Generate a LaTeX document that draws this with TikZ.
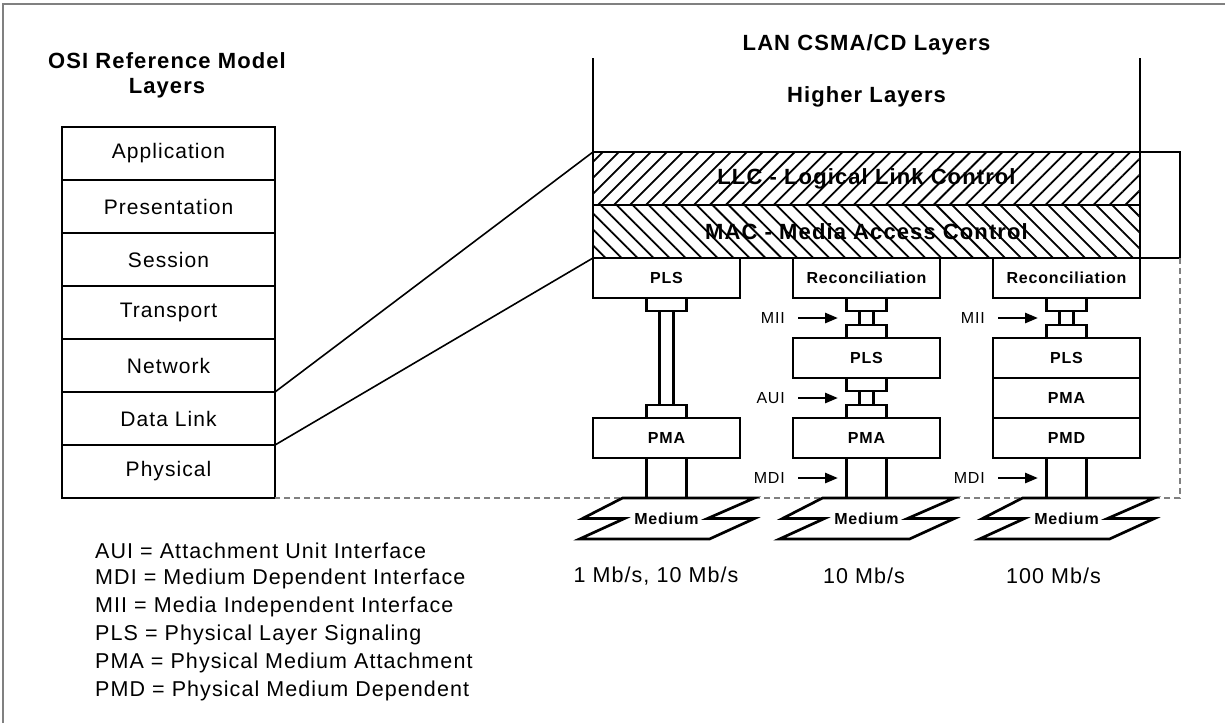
\documentclass[tikz,border=0pt]{standalone}
\usepackage{fontspec}
\setmainfont{Liberation Sans}[LetterSpace=5]
\usetikzlibrary{positioning,calc,patterns.meta,arrows.meta}

\begin{document}
\begin{tikzpicture}[x=1pt, y=-1pt, node distance=0pt,
        box/.style={draw, line width=2.7pt, rectangle, outer sep=0pt, inner sep=0pt, align=center},
        osi/.style={box, minimum width=213pt, minimum height=53pt, font=\fontsize{21}{25}\selectfont},
        band/.style={box, minimum width=547pt, minimum height=53pt, font=\fontsize{22}{26}\selectfont\bfseries},
        layer/.style={box, minimum width=147pt, minimum height=40pt, font=\fontsize{16}{19}\selectfont\bfseries},
        plug/.style={box, fill=white, minimum width=40pt, minimum height=13pt},
        rod/.style={box, fill=white, minimum width=14pt, minimum height=14pt},
        brace/.style={draw, line width=1.6pt, outer sep=0pt, minimum width=40pt, minimum height=106pt},
        medium/.style={inner sep=0pt, outer sep=0pt, minimum height=41pt, font=\fontsize{16}{19}\selectfont\bfseries},
        title/.style={align=center, font=\fontsize{22}{25}\selectfont\bfseries},
        iface/.style={inner sep=0pt, font=\fontsize{16}{19}\selectfont},
        note/.style={inner sep=0pt, font=\fontsize{21.5}{25}\selectfont},
        wall/.style={line width=2.7pt},
        link/.style={line width=1.6pt},
        ifarrow/.style={line width=2.7pt, -{Triangle[length=13pt,width=10pt]}},
        frame/.style={draw=gray, line width=1.8pt},
        guide/.style={draw=gray, line width=1.5pt, dash pattern=on 6pt off 4pt},
        medium edge/.pic={\draw[line width=2.7pt] (-44,-20.5) -- (88,-20.5) -- (41,0) -- (88,0) -- (43,20.5) -- (-87,20.5) -- (-42,0) -- (-84,0) -- cycle;}
    ]
        \useasboundingbox (0,0) rectangle (1225,723);
        \draw[frame] (3,723) -- (3,4) -- (1225,4);

        % OSI side
        \node[title] (ositext) at (167,75.5) {OSI Reference Model\\Layers};
        \node[osi] (app) at (168.5,153.5) {Application};
        \node[osi, below=of app] (pres) {Presentation};
        \node[osi, below=of pres] (sess) {Session};
        \node[osi, below=of sess] (trans) {Transport};
        \node[osi, below=of trans] (net) {Network};
        \node[osi, below=of net] (dlink) {Data Link};
        \node[osi, below=of dlink] (phys) {Physical};

        % LAN side
        \node[title] (lantext) at (866.5,45) {LAN CSMA/CD Layers};
        \node[title] (higher) at (866.5,97) {Higher Layers};
        \node[band, pattern={Lines[angle=45,distance=11.3pt,line width=1.8pt]}] (llc) at (866.5,178.5) {LLC - Logical Link Control};
        \node[band, pattern={Lines[angle=-45,distance=11.3pt,line width=1.8pt]}, below=of llc] (mac) {MAC - Media Access Control};
        \coordinate[above=94pt of llc.north west] (walll);
        \coordinate[above=94pt of llc.north east] (wallr);
        \node[brace, anchor=north west] (bracket) at (llc.north east) {};

        % Top of the three stacks
        \node[layer, anchor=north west] (pls1) at (mac.south west) {PLS};
        \node[layer, right=53pt of pls1] (rec2) {Reconciliation};
        \node[layer, anchor=north east] (rec3) at (mac.south east) {Reconciliation};

        % 1 Mb/s, 10 Mb/s
        \node[plug, below=of pls1] (plug1a) {};
        \node[layer, below=120pt of pls1] (pma1) {PMA};
        \node[plug, above=of pma1] (plug1b) {};
        \node[rod, minimum height=94pt, below=of plug1a] (rod1) {};

        % 10 Mb/s
        \node[plug, below=of rec2] (plug2a) {};
        \node[rod, below=of plug2a] (rod2a) {};
        \node[plug, below=of rod2a] (plug2b) {};
        \node[layer, below=of plug2b] (pls2) {PLS};
        \node[plug, below=of pls2] (plug2c) {};
        \node[rod, below=of plug2c] (rod2b) {};
        \node[plug, below=of rod2b] (plug2d) {};
        \node[layer, below=of plug2d] (pma2) {PMA};

        % 100 Mb/s
        \node[plug, below=of rec3] (plug3a) {};
        \node[rod, below=of plug3a] (rod3a) {};
        \node[plug, below=of rod3a] (plug3b) {};
        \node[layer, below=of plug3b] (pls3) {PLS};
        \node[layer, below=of pls3] (pma3) {PMA};
        \node[layer, below=of pma3] (pmd3) {PMD};

        % Media
        \node[medium, below=40pt of pma1] (med1) {Medium};
        \node[medium, below=40pt of pma2] (med2) {Medium};
        \node[medium, below=40pt of pmd3] (med3) {Medium};

        \draw[guide] (bracket.south east) -- (bracket.south east |- phys.south) -- (phys.south east);

        \pic at (med1) {medium edge};
        \pic at (med2) {medium edge};
        \pic at (med3) {medium edge};

        \draw[wall] (walll) -- (llc.north west);
        \draw[wall] (wallr) -- (llc.north east);
        \draw[link] (net.south east) -- (llc.north west);
        \draw[link] (dlink.south east) -- (mac.south west);

        \draw[wall] ([xshift=-20pt]pma1.south) -- ([xshift=-20pt]med1.north);
        \draw[wall] ([xshift=20pt]pma1.south) -- ([xshift=20pt]med1.north);
        \draw[wall] ([xshift=-20pt]pma2.south) -- ([xshift=-20pt]med2.north);
        \draw[wall] ([xshift=20pt]pma2.south) -- ([xshift=20pt]med2.north);
        \draw[wall] ([xshift=-20pt]pmd3.south) -- ([xshift=-20pt]med3.north);
        \draw[wall] ([xshift=20pt]pmd3.south) -- ([xshift=20pt]med3.north);

        % Interfaces
        \coordinate (mdi2) at ($(pma2.south)!0.5!(med2.north)$);
        \coordinate (mdi3) at ($(pmd3.south)!0.5!(med3.north)$);
        \node[iface, left=74.5pt of rod2a] (mii2) {MII};
        \node[iface, left=74.5pt of rod2b] (aui2) {AUI};
        \node[iface, left=81.5pt of mdi2] (mdi2t) {MDI};
        \node[iface, left=74.5pt of rod3a] (mii3) {MII};
        \node[iface, left=81.5pt of mdi3] (mdi3t) {MDI};

        \draw[ifarrow, shorten <=13pt, shorten >=21.5pt] (mii2) -- (rod2a);
        \draw[ifarrow, shorten <=13pt, shorten >=21.5pt] (aui2) -- (rod2b);
        \draw[ifarrow, shorten <=13pt, shorten >=28.5pt] (mdi2t) -- (mdi2);
        \draw[ifarrow, shorten <=13pt, shorten >=21.5pt] (mii3) -- (rod3a);
        \draw[ifarrow, shorten <=13pt, shorten >=28.5pt] (mdi3t) -- (mdi3);

        % Rates
        \node[note] (rate1) at (656,576) {1 Mb/s, 10 Mb/s};
        \node[note] (rate2) at (864,576) {10 Mb/s};
        \node[note] (rate3) at (1053.5,576) {100 Mb/s};

        % Key
        \node[note, anchor=west] (keyaui) at (95,551) {AUI = Attachment Unit Interface};
        \node[note, anchor=west] (keymdi) at (95,579) {MDI = Medium Dependent Interface};
        \node[note, anchor=west] (keymii) at (95,607) {MII = Media Independent Interface};
        \node[note, anchor=west] (keypls) at (95,635) {PLS = Physical Layer Signaling};
        \node[note, anchor=west] (keypma) at (95,663) {PMA = Physical Medium Attachment};
        \node[note, anchor=west] (keypmd) at (95,691) {PMD = Physical Medium Dependent};

    \end{tikzpicture}
\end{document}
